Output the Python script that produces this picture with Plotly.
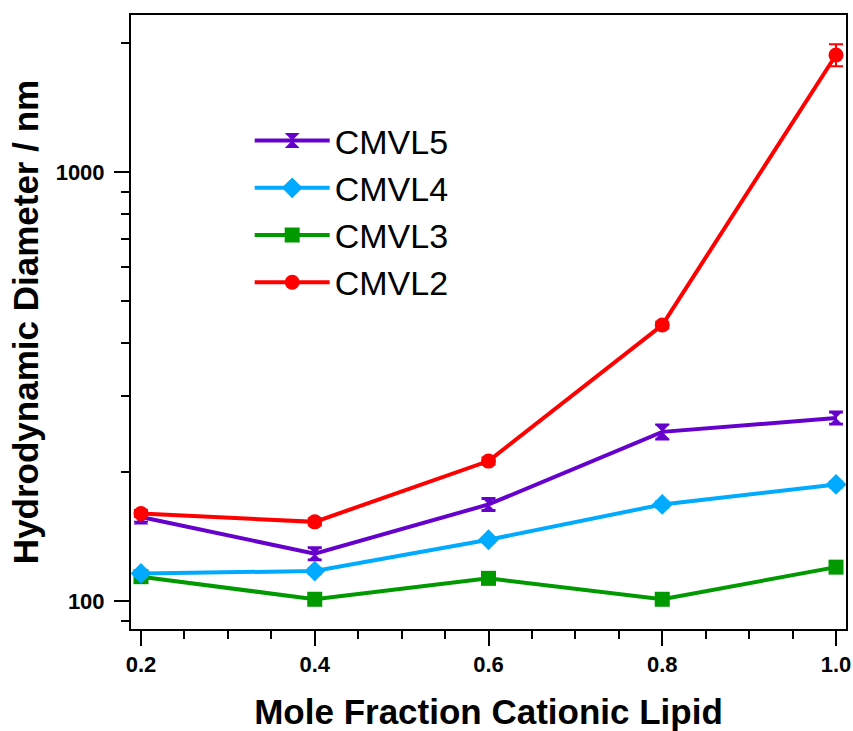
import plotly.graph_objects as go

x_vals = [0.2, 0.4, 0.6, 0.8, 1.0]
series_names = ["CMVL5", "CMVL4", "CMVL3", "CMVL2"]
cmvl5 = [157, 129, 168, 248, 267]
cmvl5_err = [4, 4, 5, 10, 8]
cmvl4 = [116, 117.5, 139, 168, 187]
cmvl4_err = [2, 2, 2, 3, 3]
cmvl3 = [114, 101, 113, 101, 120]
cmvl3_err = [2, 2, 2, 2, 2]
cmvl2 = [160, 153, 212, 440, 1874]
cmvl2_err = [3, 3, 4, 8, 110]

colors = ["#6600CC", "#00AAFF", "#009900", "#FF0000"]
symbols = ["hourglass", "diamond", "square", "circle"]
sizes = [15, 16, 15, 15]
values = [cmvl5, cmvl4, cmvl3, cmvl2]
errors = [cmvl5_err, cmvl4_err, cmvl3_err, cmvl2_err]

traces = {}
for i, (name, y, err, c, s, sz) in enumerate(zip(series_names, values, errors, colors, symbols, sizes)):
    traces[name] = go.Scatter(
        x=x_vals, y=y, name=name, mode="lines+markers",
        line=dict(color=c, width=4),
        marker=dict(symbol=s, size=sz, color=c),
        error_y=dict(type="data", array=err, visible=True, color=c, thickness=2, width=7),
        legendrank=i + 1,
    )

fig = go.Figure([traces["CMVL3"], traces["CMVL4"], traces["CMVL5"], traces["CMVL2"]])

fig.update_layout(
    width=853, height=731,
    margin=dict(l=131, r=7, t=15, b=102),
    paper_bgcolor="white", plot_bgcolor="white",
    font=dict(family="Liberation Sans, Arial", color="black"),
    legend=dict(
        x=0.166, y=0.842, xanchor="left", yanchor="top",
        font=dict(size=34, family="Liberation Sans, Arial"),
        bgcolor="rgba(0,0,0,0)", traceorder="normal",
        itemwidth=75, tracegroupgap=0,
    ),
    showlegend=True,
)

fig.update_xaxes(
    range=[0.1885, 1.0115], automargin=False,
    tickvals=x_vals, ticktext=["0.2", "0.4", "0.6", "0.8", "1.0"],
    ticks="outside", ticklen=15, tickwidth=2, tickcolor="black",
    minor=dict(dtick=0.05, tick0=0.2, ticks="outside", ticklen=8, tickwidth=2, tickcolor="black"),
    showline=True, linecolor="black", linewidth=2, mirror=True,
    showgrid=False, zeroline=False,
    tickfont=dict(size=22, family="Liberation Sans, Arial", weight="bold"),
    title=dict(text="<b>Mole Fraction Cationic Lipid</b>", font=dict(size=35), standoff=24),
)
fig.update_yaxes(
    type="log", range=[1.935, 3.366], automargin=False,
    tickvals=[100, 1000], ticktext=["100", "1000"],
    ticks="outside", ticklen=15, tickwidth=2, tickcolor="black", ticklabelstandoff=5,
    minor=dict(tickvals=[90, 200, 300, 400, 500, 600, 700, 800, 900, 2000],
               ticks="outside", ticklen=8, tickwidth=2, tickcolor="black"),
    showline=True, linecolor="black", linewidth=2, mirror=True,
    showgrid=False, zeroline=False,
    tickfont=dict(size=22, family="Liberation Sans, Arial", weight="bold"),
    title=dict(text="<b>Hydrodynamic Diameter / nm</b>", font=dict(size=35), standoff=6),
)

fig.write_html("out.html", config={"displayModeBar": False},
               post_script="document.body.style.margin='0';")
